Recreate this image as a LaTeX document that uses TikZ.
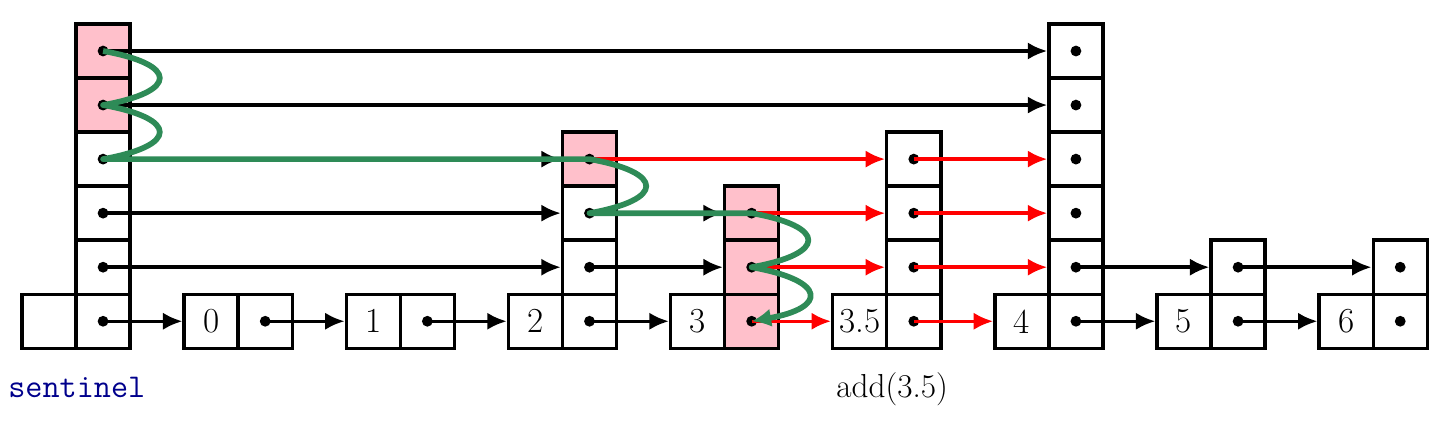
\documentclass[tikz,border=0pt]{standalone}
\usepackage{tikz}
\usetikzlibrary{arrows.meta,backgrounds}
\definecolor{hotpink}{RGB}{255,192,203}
\definecolor{searchgreen}{RGB}{46,139,87}
\definecolor{labelblue}{RGB}{0,0,140}

\begin{document}
\begin{tikzpicture}[>={Latex[length=3.6mm,width=3.2mm]},
  cell/.style={draw,line width=1.8pt,minimum size=1cm,inner sep=0pt,font=\fontsize{18.5}{20}\selectfont},
  pcell/.style={cell,path picture={\fill (path picture bounding box.center) circle (0.1);}},
  link/.style={->,line width=1.8pt},
  newlink/.style={link,red},
  search/.style={-{Latex[length=3.6mm,width=3.4mm]},line width=3pt,line join=round,searchgreen}]
\useasboundingbox (-0.407,-1.41) rectangle (26.31,6.444);
% sentinel
\node[cell] (sv) at (0.5,0.5) {};
\foreach \r in {0,...,5} \node[pcell] (s\r) at (1.5,\r+0.5) {};
% list nodes: name/text/column/top row
\foreach \n/\t/\c/\h in {0/0/3/0,1/1/6/0,2/2/9/3,3/3/12/2,35/3.5/15/3,4/4/18/5,5/5/21/1,6/6/24/1} {
  \node[cell] (v\n) at (\c+0.5,0.5) {\t};
  \foreach \r in {0,...,\h} \node[pcell] (p\n r\r) at (\c+1.5,\r+0.5) {};
}
% cells on the search path
\begin{scope}[on background layer]
\foreach \x in {s5,s4,p2r3,p3r2,p3r1,p3r0}
  \fill[hotpink] (\x.south west) rectangle (\x.north east);
\end{scope}
% old links
\draw[link] (s5.center) -- (p4r5.west);
\draw[link] (s4.center) -- (p4r4.west);
\draw[link] (s3.center) -- (p2r3.west);
\draw[link] (s2.center) -- (p2r2.west);
\draw[link] (s1.center) -- (p2r1.west);
\draw[link] (s0.center) -- (v0.west);
\draw[link] (p0r0.center) -- (v1.west);
\draw[link] (p1r0.center) -- (v2.west);
\draw[link] (p2r0.center) -- (v3.west);
\draw[link] (p2r1.center) -- (p3r1.west);
\draw[link] (p2r2.center) -- (p3r2.west);
\draw[link] (p4r1.center) -- (p5r1.west);
\draw[link] (p4r0.center) -- (v5.west);
\draw[link] (p5r1.center) -- (p6r1.west);
\draw[link] (p5r0.center) -- (v6.west);
% new links
\draw[newlink] (p2r3.center) -- (p35r3.west);
\draw[newlink] (p35r3.center) -- (p4r3.west);
\draw[newlink] (p3r2.center) -- (p35r2.west);
\draw[newlink] (p35r2.center) -- (p4r2.west);
\draw[newlink] (p3r1.center) -- (p35r1.west);
\draw[newlink] (p35r1.center) -- (p4r1.west);
\draw[newlink] (p3r0.center) -- (v35.west);
\draw[newlink] (p35r0.center) -- (v4.west);
% search path
\draw[search] (s5.center) .. controls +(1.4,-0.25) and +(1.4,0.25) .. (s4.center)
  .. controls +(1.4,-0.25) and +(1.4,0.25) .. (s3.center) -- (p2r3.center)
  .. controls +(1.4,-0.25) and +(1.4,0.25) .. (p2r2.center) -- (p3r2.center)
  .. controls +(1.4,-0.25) and +(1.4,0.25) .. (p3r1.center)
  .. controls +(1.4,-0.25) and +(1.4,0.25) .. (p3r0.center);
\node[anchor=base west,font=\fontsize{17.5}{20}\selectfont\ttfamily,text=labelblue,inner sep=0pt] (sentlabel) at (-0.26,-0.907) {sentinel};
\node[anchor=base west,font=\fontsize{17.5}{20}\selectfont,inner sep=0pt] (addlabel) at (15.06,-0.907) {add(3.5)};
\end{tikzpicture}
\end{document}
